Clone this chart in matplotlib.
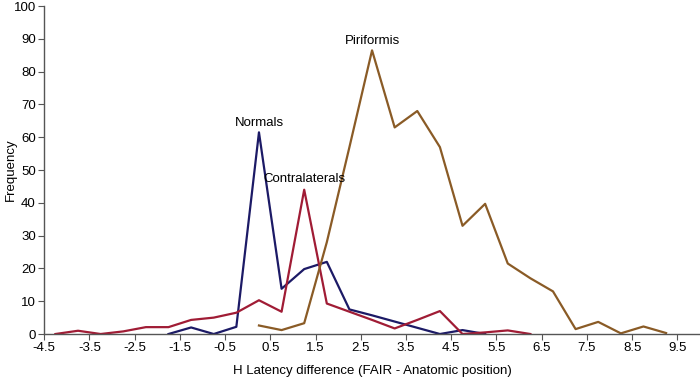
import numpy as np
import matplotlib
matplotlib.use("Agg")
import matplotlib.pyplot as plt

plt.rcParams['font.family'] = ['Liberation Sans', 'DejaVu Sans']

# bin centres (H latency difference, ms)
normals_x = [-1.75, -1.25, -0.75, -0.25, 0.25, 0.75, 1.25, 1.75, 2.25, 2.75,
             3.25, 3.75, 4.25, 4.75, 5.25]
normals_y = [0, 2.0, 0, 2.2, 61.5, 13.8, 19.8, 22.0, 7.5, 5.7,
             3.8, 1.9, 0, 1.2, 0]

contra_x = [-4.25, -3.75, -3.25, -2.75, -2.25, -1.75, -1.25, -0.75, -0.25, 0.25,
            0.75, 1.25, 1.75, 2.25, 2.75, 3.25, 3.75, 4.25, 4.75, 5.25,
            5.75, 6.25]
contra_y = [0, 1.0, 0, 0.8, 2.1, 2.1, 4.3, 5.0, 6.5, 10.3,
            6.8, 44.0, 9.3, 6.8, 4.3, 1.7, 4.3, 7.0, 0, 0.5,
            1.1, 0]

piri_x = [0.25, 0.75, 1.25, 1.75, 2.25, 2.75, 3.25, 3.75, 4.25, 4.75,
          5.25, 5.75, 6.25, 6.75, 7.25, 7.75, 8.25, 8.75, 9.25]
piri_y = [2.6, 1.2, 3.3, 28.0, 57.0, 86.5, 63.0, 68.0, 57.0, 33.0,
          39.7, 21.5, 17.0, 13.0, 1.5, 3.7, 0.2, 2.3, 0.3]

x_ticks = np.arange(-4.5, 10, 1.0)
y_ticks = np.arange(0, 101, 10)

fs = 9.5

fig = plt.figure(figsize=(7, 3.8), dpi=100)
ax = fig.add_axes([0.063, 0.121, 0.937, 0.863])

ax.plot(normals_x, normals_y, color='#1c1a66', lw=1.6)
ax.plot(contra_x, contra_y, color='#a01c35', lw=1.6)
ax.plot(piri_x, piri_y, color='#8a5b26', lw=1.6)

ax.text(0.25, 62.5, 'Normals', ha='center', va='bottom', fontsize=fs)
ax.text(1.25, 45.5, 'Contralaterals', ha='center', va='bottom', fontsize=fs)
ax.text(2.75, 87.5, 'Piriformis', ha='center', va='bottom', fontsize=fs)

ax.set_xlim(-4.5, 10)
ax.set_ylim(0, 100)
ax.set_xticks(x_ticks)
ax.set_xticklabels([f'{t:g}' for t in x_ticks])
ax.set_yticks(y_ticks)
ax.tick_params(labelsize=fs, length=4, width=0.8, color='#555555', pad=2)
for s in ['top', 'right']:
    ax.spines[s].set_visible(False)
for s in ['left', 'bottom']:
    ax.spines[s].set_color('#555555')
    ax.spines[s].set_linewidth(1.0)

ax.set_xlabel('H Latency difference (FAIR - Anatomic position)', fontsize=fs, labelpad=8)
ax.set_ylabel('Frequency', fontsize=fs)
ax.yaxis.set_label_coords(-0.041, 0.5)

fig.savefig('out.png', dpi=100)
